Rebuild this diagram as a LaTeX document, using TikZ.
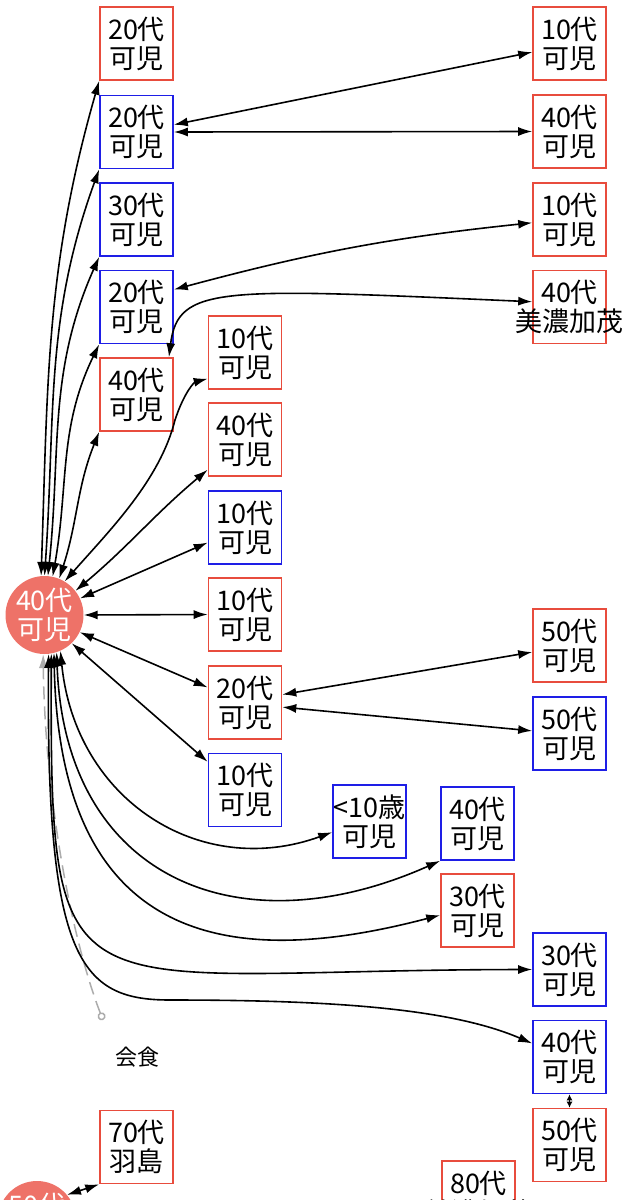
\documentclass[tikz,border=0pt]{standalone}
\usepackage{fontspec}
\setmainfont{Noto Sans CJK JP}
\usetikzlibrary{arrows.meta}
\definecolor{boxred}{RGB}{232,76,61}
\definecolor{boxblue}{RGB}{30,30,230}
\definecolor{hubred}{RGB}{238,114,104}

\begin{document}
\begin{tikzpicture}[x=1pt, y=-1pt,
    box/.style={draw, line width=1.6pt, minimum width=73pt, minimum height=73pt, inner sep=0pt, align=center, font=\fontsize{27}{29}\selectfont},
    redbox/.style={box, draw=boxred},
    bluebox/.style={box, draw=boxblue},
    hub/.style={circle, fill=hubred, text=white, minimum size=74pt, inner sep=0pt, align=center, font=\fontsize{27}{29}\selectfont},
    link/.style={line width=1.6pt, {Latex[length=14pt,width=9pt]}-{Latex[length=14pt,width=9pt]}},
    shortlink/.style={line width=1.6pt, {Latex[length=6pt,width=6pt]}-{Latex[length=6pt,width=6pt]}},
    meal/.style={gray!65, line width=1.5pt, dash pattern=on 13pt off 7pt, {Circle[open,length=8pt,width=8pt]}-{Latex[length=14pt,width=9pt]}}]
    \useasboundingbox (0,0) rectangle (641,1200);

    % Hubs
    \node[hub] (h) at (44.5,615) {40代\\可児};
    \node[hub] (h2) at (37,1220) {50代\\可児};

    % Left column
    \node[redbox] (a1) at (136.5,43.5) {20代\\可児};
    \node[bluebox] (a2) at (136.5,132) {20代\\可児};
    \node[bluebox] (a3) at (136.5,219.5) {30代\\可児};
    \node[bluebox] (a4) at (136.5,307) {20代\\可児};
    \node[redbox] (a5) at (136.5,394.5) {40代\\可児};

    % Middle column
    \node[redbox] (b1) at (245,352.5) {10代\\可児};
    \node[redbox] (b2) at (245,439.5) {40代\\可児};
    \node[bluebox] (b3) at (245,527.5) {10代\\可児};
    \node[redbox] (b4) at (245,614.5) {10代\\可児};
    \node[redbox] (b5) at (245,702.5) {20代\\可児};
    \node[bluebox] (b6) at (245,790) {10代\\可児};

    % Right column
    \node[redbox] (c1) at (569.5,43.5) {10代\\可児};
    \node[redbox] (c2) at (569.5,131.5) {40代\\可児};
    \node[redbox] (c3) at (569.5,219.5) {10代\\可児};
    \node[redbox] (c4) at (569.5,307) {40代\\\makebox[0pt]{美濃加茂}};
    \node[redbox] (c5) at (569.5,645.5) {50代\\可児};
    \node[bluebox] (c6) at (569.5,733.5) {50代\\可児};
    \node[bluebox] (c7) at (569.5,969.5) {30代\\可児};
    \node[bluebox] (c8) at (569.5,1057) {40代\\可児};
    \node[redbox] (c9) at (569.5,1145) {50代\\可児};

    % Lower nodes
    \node[bluebox] (d1) at (369.5,821.5) {\makebox[0pt]{<10歳}\\可児};
    \node[bluebox] (d2) at (477.5,823.5) {40代\\可児};
    \node[redbox] (d3) at (477.5,910.5) {30代\\可児};
    \node[redbox] (k) at (136.5,1147) {70代\\羽島};
    \node[redbox] (e1) at (478.5,1197.5) {80代\\\makebox[0pt]{美濃加茂}};

    % Meal
    \node[font=\fontsize{22}{24}\selectfont] (mealtext) at (137,1057) {会食};
    \coordinate (mealtail) at (103,1020);
    \draw[meal] (mealtail) .. controls (72,940) and (45,800) .. (h.-92);

    % Hub to left column
    \draw[link] (h.95) to[out=88,in=-106] (a1.south west);
    \draw[link] (h.90) to[out=86,in=-110] (a2.south west);
    \draw[link] (h.85) to[out=84,in=-114] (a3.south west);
    \draw[link] (h.78) to[out=80,in=-116] (a4.south west);
    \draw[link] (h.68) to[out=72,in=-112] (a5.south west);

    % Hub to middle column
    \draw[link] (h.59) .. controls (110,530) and (160,480) .. (175,420) .. controls (185,390) and (195,382) .. (b1.-145);
    \draw[link] (h.38) to[out=40,in=-140] (b2.-141);
    \draw[link] (h.25) -- (b3.-158);
    \draw[link] (h.east) -- (b4.west);
    \draw[link] (h.-26) -- (b5.158);
    \draw[link] (h.-46) -- (b6.143);

    % Hub to lower nodes
    \draw[link] (h.-66) .. controls (75,800) and (200,880) .. (d1.196);
    \draw[link] (h.-72) .. controls (65,880) and (240,950) .. (d2.south west);
    \draw[link] (h.-76) .. controls (60,960) and (250,965) .. (d3.187);
    \draw[link] (h.-80) .. controls (50,1030) and (60,970) .. (c7.west);
    \coordinate (c8bend) at (170,1000);
    \draw[link] (h.-84) .. controls (46,960) and (80,1000) .. (c8bend) .. controls (330,1000) and (450,1008) .. (c8.160);

    % Other links
    \draw[link] (a2.11) -- (c1.193);
    \draw[link] (a2.east) -- (c2.west);
    \draw[link] (a4.25) to[out=15,in=186] (c3.185);
    \draw[link] (a5.49) .. controls (178,285) and (220,288) .. (c4.172);
    \draw[link] (b5.12) -- (c5.190);
    \draw[link] (b5.-7) -- (c6.176);
    \draw[shortlink] (c8.south) -- (c9.north);
    \draw[link] (h2.40) -- (k.south west);

\end{tikzpicture}
\end{document}
